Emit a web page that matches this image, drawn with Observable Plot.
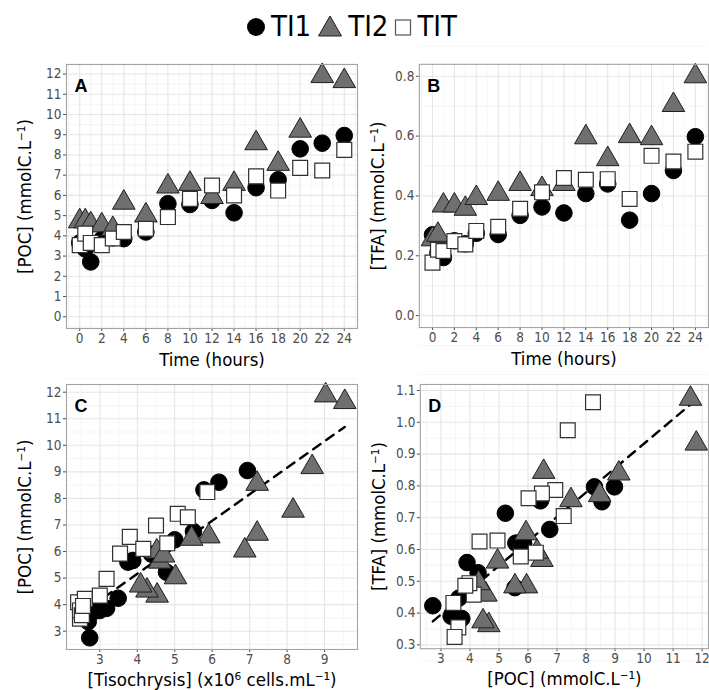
<!DOCTYPE html>
<html><head><meta charset="utf-8">
<script src="https://cdn.jsdelivr.net/npm/d3@7"></script>
<script src="https://cdn.jsdelivr.net/npm/@observablehq/plot@0.6"></script>
<style>
body{margin:0;background:#fff;}
#wrap{position:relative;width:709px;height:690px;overflow:hidden;font-family:"Liberation Sans Narrow","DejaVu Sans Condensed","Arial Narrow",Roboto,sans-serif;}
.panel{position:absolute;}
#legend{position:absolute;top:9px;left:0;width:709px;display:flex;justify-content:center;align-items:center;font-size:29px;line-height:34px;color:#000;}
#legend span.t{margin:0 6px 0 5px;}
#legend svg{display:block;}
</style></head><body>
<div id="wrap"><div id="legend"></div></div>
<script>
// ---- Data ----
const series = ["TI1", "TI2", "TIT"];
const hours = [0, 0.5, 1, 2, 3, 4, 6, 8, 10, 12, 14, 16, 18, 20, 22, 24];

// Panel A: [POC] (mmolC.L-1) over time
const pocTI1 = [3.65, 3.35, 2.71, 3.82, 3.9, 3.86, 4.19, 5.59, 5.55, 5.75, 5.14, 6.38, 6.77, 8.3, 8.58, 8.96];
const pocTI2 = [4.72, 4.72, 4.57, 4.52, 4.34, 5.64, 5.01, 6.44, 6.57, 5.92, 6.57, 8.58, 7.56, 9.2, 11.9, 11.65];
const pocTIT = [3.54, 4.11, 3.65, 3.54, 3.87, 4.19, 4.35, 4.93, 5.83, 6.49, 6.0, 6.94, 6.24, 7.36, 7.23, 8.25];

// Panel B: [TFA] (mmolC.L-1) over time
const tfaTI1 = [0.27, 0.21, 0.194, 0.25, 0.24, 0.275, 0.271, 0.335, 0.363, 0.343, 0.408, 0.44, 0.319, 0.408, 0.485, 0.598];
const tfaTI2 = [0.255, 0.27, 0.368, 0.368, 0.357, 0.393, 0.407, 0.44, 0.423, 0.44, 0.596, 0.523, 0.6, 0.593, 0.704, 0.8];
const tfaTIT = [0.177, 0.22, 0.216, 0.249, 0.238, 0.283, 0.297, 0.357, 0.412, 0.46, 0.454, 0.456, 0.39, 0.534, 0.515, 0.548];

// Panel C: [POC] vs [Tisochrysis] (x10^6 cells.mL-1)
const cellsTI1 = [2.73, 2.69, 3.0, 3.18, 2.85, 3.49, 3.75, 3.88, 4.38, 4.78, 5.0, 5.5, 5.78, 6.18, 6.94, 2.62];
const pocCTI1  = [2.75, 3.36, 3.78, 3.86, 3.75, 4.24, 5.6, 5.66, 5.9, 5.22, 6.44, 6.75, 8.32, 8.61, 9.05, 3.55];
const cellsTI2 = [9.03, 9.54, 8.67, 8.16, 7.2, 7.2, 6.87, 5.91, 5.45, 5.02, 4.6, 4.52, 4.53, 4.26, 4.09, 4.7];
const pocCTI2  = [11.88, 11.63, 9.18, 7.54, 8.55, 6.67, 6.04, 6.57, 6.48, 5.03, 5.62, 6.0, 4.34, 4.53, 4.72, 5.85];
const cellsTIT = [2.42, 2.6, 2.47, 2.47, 3.0, 3.18, 3.54, 3.8, 4.16, 4.5, 4.8, 5.08, 5.35, 5.87, 2.52, 2.55];
const pocCTIT  = [4.09, 4.22, 3.47, 3.78, 4.34, 4.97, 5.92, 6.55, 6.1, 6.98, 6.31, 7.42, 7.29, 8.24, 3.6, 3.95];
const fitC = [0.998, 1.17];   // slope, intercept of the dashed fit line

// Panel D: [TFA] vs [POC]
const pocDTI1 = [2.72, 3.35, 3.72, 3.62, 3.9, 4.28, 5.22, 5.58, 5.85, 5.55, 6.43, 6.75, 8.29, 8.55, 8.98, 3.5];
const tfaDTI1 = [0.423, 0.39, 0.383, 0.447, 0.559, 0.527, 0.714, 0.62, 0.62, 0.48, 0.753, 0.663, 0.797, 0.75, 0.797, 0.385];
const pocDTI2 = [11.6, 11.8, 9.13, 8.47, 7.48, 6.54, 6.48, 6.31, 5.93, 5.95, 5.55, 4.95, 4.65, 4.45, 4.55, 4.3];
const tfaDTI2 = [1.074, 0.933, 0.839, 0.771, 0.755, 0.844, 0.567, 0.593, 0.651, 0.484, 0.484, 0.562, 0.362, 0.374, 0.458, 0.494];
const pocDTIT = [8.24, 7.37, 7.23, 6.94, 6.48, 6.02, 6.27, 5.75, 4.95, 4.33, 4.13, 3.98, 3.84, 3.6, 3.47, 3.43];
const tfaDTIT = [1.063, 0.975, 0.705, 0.787, 0.776, 0.761, 0.59, 0.578, 0.628, 0.625, 0.458, 0.494, 0.486, 0.355, 0.325, 0.432];
const fitD = [0.0768, 0.165]; // slope, intercept of the dashed fit line

// Tick labels
const hourTicks = [0, 2, 4, 6, 8, 10, 12, 14, 16, 18, 20, 22, 24];
const pocTicksA = [0, 1, 2, 3, 4, 5, 6, 7, 8, 9, 10, 11, 12];
const tfaTicksB = [0, 0.2, 0.4, 0.6, 0.8];
const cellTicks = [3, 4, 5, 6, 7, 8, 9];
const pocTicksC = [3, 4, 5, 6, 7, 8, 9, 10, 11, 12];
const pocTicksD = [3, 4, 5, 6, 7, 8, 9, 10, 11, 12];
const tfaTicksD = [0.3, 0.4, 0.5, 0.6, 0.7, 0.8, 0.9, 1.0, 1.1];

// ---- Rendering ----
const style = {
  TI1: {symbol: "circle", r: 8.3, fill: "#000", stroke: "#000", strokeWidth: 1},
  TI2: {symbol: "triangle", r: 8.4, fill: "#6f6f6f", stroke: "#1e1e1e", strokeWidth: 1},
  TIT: {symbol: "square", r: 8.4, fill: "#fff", stroke: "#303030", strokeWidth: 1.2}
};
const zip = (xs, ys, s) => xs.map((x, i) => ({x, y: ys[i], s}));
const minors = (ticks, step) => {
  const out = [];
  for (let i = 0; i <= ticks.length; i++) {
    const v = (i < ticks.length ? ticks[i] : ticks[ticks.length - 1] + step) - step / 2;
    out.push(+v.toFixed(6));
  }
  return out;
};
const FONT = '"Liberation Sans Narrow","DejaVu Sans Condensed","Arial Narrow",Roboto,sans-serif';

function panel(o) {
  const dataBySeries = o.data;
  const all = [].concat(...dataBySeries);
  const marks = [
    Plot.gridX(minors(o.xTicks, o.xStep), {stroke: "#f0f0f0", strokeOpacity: 1, strokeWidth: 0.7}),
    Plot.gridY(minors(o.yTicks, o.yStep), {stroke: "#f0f0f0", strokeOpacity: 1, strokeWidth: 0.7}),
    Plot.gridX(o.xTicks, {stroke: "#e6e6e6", strokeOpacity: 1, strokeWidth: 1.1}),
    Plot.gridY(o.yTicks, {stroke: "#e6e6e6", strokeOpacity: 1, strokeWidth: 1.1}),
    Plot.axisX(o.xTicks, {tickFormat: o.xFormat, tickSize: 3, tickPadding: 1.5, fontSize: 13.5, color: "#4d4d4d", label: null}),
    Plot.axisY(o.yTicks, {tickFormat: o.yFormat, tickSize: 3, tickPadding: 2, fontSize: 13.5, color: "#4d4d4d", label: null}),
    Plot.text([o.xLabel], {frameAnchor: "bottom", textAnchor: "middle", lineAnchor: "middle", dy: o.xLabelDy, fontSize: 18.5, fill: "#000", text: d => d}),
    Plot.text([o.yLabel], {frameAnchor: "left", textAnchor: "middle", lineAnchor: "middle", rotate: -90, dx: -41, fontSize: 18.5, fill: "#000", text: d => d}),
  ];
  if (o.fit) {
    const ext = d3.extent(all, d => d.x);
    const line = ext.map(x => ({x, y: o.fit[0] * x + o.fit[1]}));
    marks.push(Plot.line(line, {x: "x", y: "y", stroke: "#000", strokeWidth: 2.4, strokeDasharray: "9,7"}));
  }
  dataBySeries.forEach(d => {
    const st = style[d[0].s];
    marks.push(Plot.dot(d, {x: "x", y: "y", ...st}));
  });
  marks.push(Plot.frame({stroke: "#a3a3a3", strokeWidth: 1.1}));
  marks.push(Plot.text([o.letter], {frameAnchor: "top-left", dx: 8, dy: 15, fontSize: 18, fontWeight: "bold", fontFamily: '"Liberation Sans",Arial,sans-serif', fill: "#000", text: d => d}));
  const p = Plot.plot({
    width: o.width, height: o.height,
    marginLeft: o.mL, marginRight: o.mR, marginTop: o.mT, marginBottom: o.mB,
    x: {domain: o.xDomain},
    y: {domain: o.yDomain},
    style: {fontFamily: FONT, background: "transparent", overflow: "visible"},
    marks
  });
  const div = document.createElement("div");
  div.className = "panel";
  div.style.left = o.left + "px";
  div.style.top = o.top + "px";
  div.appendChild(p);
  document.getElementById("wrap").appendChild(div);
}

const sup = "\u207B\u00B9";
panel({
  left: 0, top: 0, width: 360, height: 372, mL: 66, mR: 3, mT: 64, mB: 44, xLabelDy: 31.5,
  xDomain: [-1.2, 25.2], yDomain: [-0.58, 12.47],
  xTicks: hourTicks, xStep: 2, yTicks: pocTicksA, yStep: 1,
  xFormat: d3.format("d"), yFormat: d3.format("d"),
  xLabel: "Time (hours)", yLabel: "[POC] (mmolC.L" + sup + ")", letter: "A",
  data: [zip(hours, pocTI1, "TI1"), zip(hours, pocTI2, "TI2"), zip(hours, pocTIT, "TIT")]
});
panel({
  left: 360, top: 0, width: 350, height: 372, mL: 59, mR: 1, mT: 64, mB: 44, xLabelDy: 31.5,
  xDomain: [-1.2, 25.2], yDomain: [-0.04, 0.84],
  xTicks: hourTicks, xStep: 2, yTicks: tfaTicksB, yStep: 0.2,
  xFormat: d3.format("d"), yFormat: d3.format(".1f"),
  xLabel: "Time (hours)", yLabel: "[TFA] (mmolC.L" + sup + ")", letter: "B",
  data: [zip(hours, tfaTI1, "TI1"), zip(hours, tfaTI2, "TI2"), zip(hours, tfaTIT, "TIT")]
});
panel({
  left: 0, top: 372, width: 360, height: 318, mL: 66, mR: 3, mT: 12, mB: 41, xLabelDy: 30.3,
  xDomain: [2.11, 9.88], yDomain: [2.31, 12.29],
  xTicks: cellTicks, xStep: 1, yTicks: pocTicksC, yStep: 1,
  xFormat: d3.format("d"), yFormat: d3.format("d"),
  xLabel: "[Tisochrysis] (x10\u2076 cells.mL" + sup + ")", yLabel: "[POC] (mmolC.L" + sup + ")", letter: "C",
  fit: fitC,
  data: [zip(cellsTI1, pocCTI1, "TI1"), zip(cellsTI2, pocCTI2, "TI2"), zip(cellsTIT, pocCTIT, "TIT")]
});
panel({
  left: 360, top: 372, width: 350, height: 318, mL: 60, mR: 1, mT: 12, mB: 41, xLabelDy: 30.3,
  xDomain: [2.29, 12.22], yDomain: [0.288, 1.119],
  xTicks: pocTicksD, xStep: 1, yTicks: tfaTicksD, yStep: 0.1,
  xFormat: d3.format("d"), yFormat: d3.format(".1f"),
  xLabel: "[POC] (mmolC.L" + sup + ")", yLabel: "[TFA] (mmolC.L" + sup + ")", letter: "D",
  fit: fitD,
  data: [zip(pocDTI1, tfaDTI1, "TI1"), zip(pocDTI2, tfaDTI2, "TI2"), zip(pocDTIT, tfaDTIT, "TIT")]
});

// Legend (HTML text, inline SVG symbols)
const legend = document.getElementById("legend");
const symSvg = {
  TI1: '<svg width="20" height="22"><circle cx="10" cy="12" r="9" fill="#000"/></svg>',
  TI2: '<svg width="26" height="24"><path d="M13,2 L24.5,22 L1.5,22 Z" fill="#6f6f6f" stroke="#1e1e1e" stroke-width="1"/></svg>',
  TIT: '<svg width="18" height="22"><rect x="1.5" y="5" width="15" height="15" fill="#fff" stroke="#555" stroke-width="1.2"/></svg>'
};
series.forEach(s => {
  const g = document.createElement("span");
  g.innerHTML = symSvg[s];
  legend.appendChild(g);
  const t = document.createElement("span");
  t.className = "t";
  t.textContent = s;
  legend.appendChild(t);
});
</script>
</body></html>
